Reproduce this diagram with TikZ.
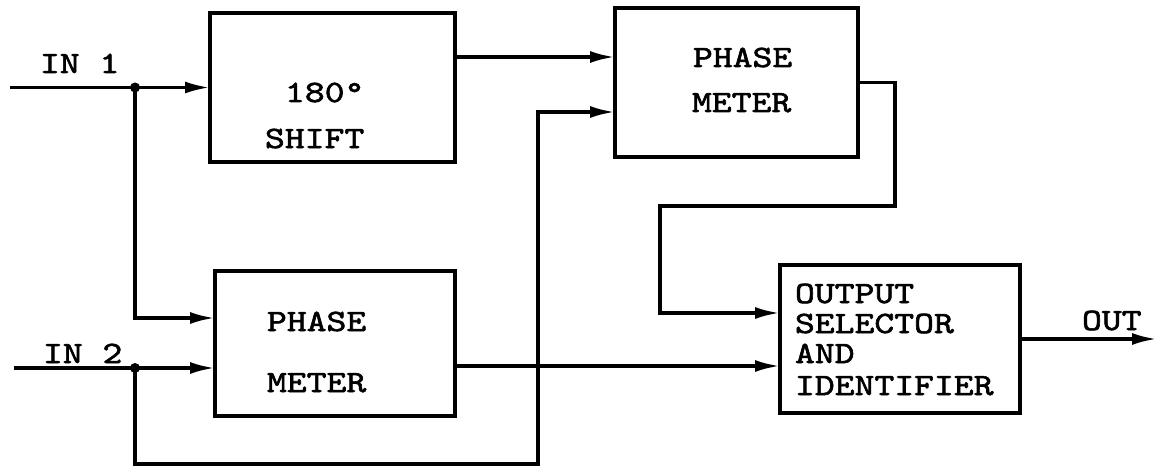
\documentclass[tikz,border=0pt]{standalone}
\usepackage{fontspec}
\newfontfamily\tw{lmmono10-regular.otf}[FakeStretch=1.22,FakeBold=2]
\usetikzlibrary{arrows.meta}
\tikzset{
  blk/.style={draw, line width=3.6pt, inner sep=0pt, outer sep=0pt},
  lbl/.style={inner sep=0pt, outer sep=0pt, anchor=base west, font=\tw\fontsize{31}{31}\selectfont},
  wire/.style={line width=3.4pt, line join=miter},
  arr/.style={wire, -{Latex[length=25pt,width=12pt]}},
  jdot/.style={circle, fill, inner sep=0pt, minimum size=10pt}
}
\begin{document}
\begin{tikzpicture}[x=1pt,y=-1pt]
\useasboundingbox (0,0) rectangle (1158,468);
% boxes
\node[blk, minimum width=245pt, minimum height=149pt] (shift) at (332.5,87.5) {};
\node[blk, minimum width=243pt, minimum height=149pt] (pmtop) at (736.5,82.5) {};
\node[blk, minimum width=240pt, minimum height=145pt] (pmbot) at (335,343.5) {};
\node[blk, minimum width=240pt, minimum height=148pt] (outsel) at (900,339) {};
% texts
\node[lbl] (t1) at (285,102) {180°};
\node[lbl] (t2) at (265,148) {SHIFT};
\node[lbl] (t3) at (693,67) {PHASE};
\node[lbl] (t4) at (692,112) {METER};
\node[lbl] (t5) at (267,331) {PHASE};
\node[lbl] (t6) at (267,392) {METER};
\node[lbl] (t7) at (795,303) {OUTPUT};
\node[lbl] (t8) at (795,333) {SELECTOR};
\node[lbl] (t9) at (795,363) {AND};
\node[lbl] (t10) at (795,395) {IDENTIFIER};
\node[lbl] (in1l) at (40,73) {IN 1};
\node[lbl] (in2l) at (43,363) {IN 2};
\node[lbl] (outl) at (1082,330) {OUT};
% coordinates
\coordinate (in1) at (10,87.5);
\coordinate (in2) at (14,368);
\coordinate (j1) at (135,87.5);
\coordinate (j2) at (135,368);
\coordinate (l2) at (538,464);
\coordinate (r1) at (895,206);
\coordinate (r2) at (660,206);
\coordinate (out) at (1157,339);
\coordinate (pmtopA) at ([yshift=25.5pt]pmtop.west);
\coordinate (pmtopB) at ([yshift=-29.5pt]pmtop.west);
\coordinate (pmbotA) at ([yshift=25.5pt]pmbot.west);
\coordinate (outA) at ([yshift=26pt]outsel.west);
\coordinate (outB) at ([yshift=-27pt]outsel.west);
% connectors
\draw[arr] (in1) -- (shift.west);
\draw[arr] (j1) |- (pmbotA);
\draw[arr] (in2) -- (pmbot.west |- in2);
\draw[arr] (j2) |- (l2) |- (pmtopB);
\draw[arr] (shift.east |- pmtopA) -- (pmtopA);
\draw[arr] (pmtop.east) -| (r1) -- (r2) |- (outA);
\draw[arr] (pmbot.east |- outB) -- (outB);
\draw[arr] (outsel.east) -- (out);
\node[jdot] at (j1) {};
\node[jdot] at (j2) {};
\end{tikzpicture}
\end{document}
